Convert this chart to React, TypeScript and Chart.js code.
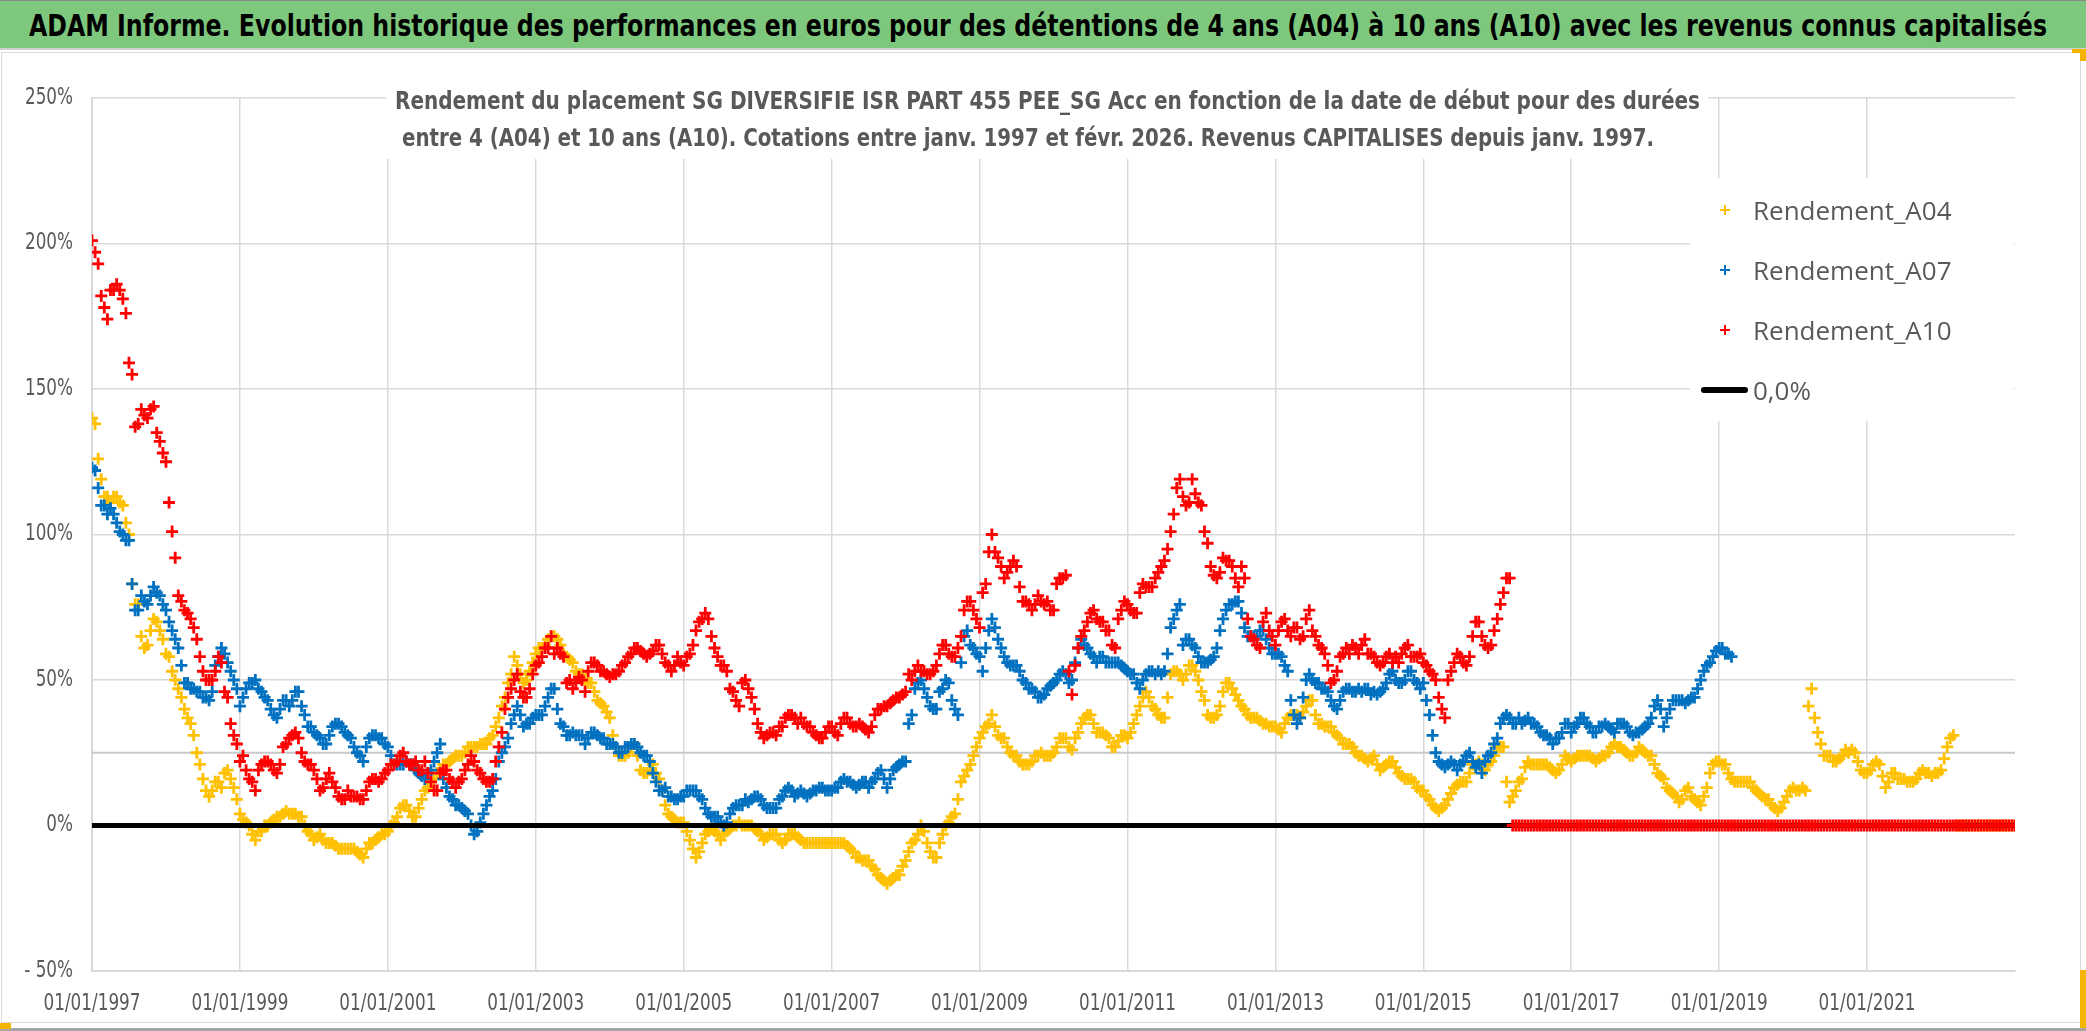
import React, { useEffect, useLayoutEffect, useRef } from 'react';
import { Chart, registerables } from 'chart.js';

Chart.register(...registerables);

// ---------- data: start dates every month from 01/1997 (plus mid-month readings), values in % ----------
const START_YEAR = 1997;
const X_MIN = 1997;
const X_MAX = 2023;
const X_TICK_YEARS = [1997, 1999, 2001, 2003, 2005, 2007, 2009, 2011, 2013, 2015, 2017, 2019, 2021];
const Y_MIN = -50;
const Y_MAX = 250;
const Y_STEP = 50;

// values read at the 1st of each month
const A04 = [
  140, 126, 113, 111, 113, 110, 100, 76, 65, 62, 71, 67,
  59, 53, 47, 40, 35, 25, 16, 10, 15, 13, 19, 13,
  4, 1, -3, -2, 0, 1, 3, 4, 4, 4, 3, -2,
  -5, -3, -6, -6, -8, -8, -8, -9, -11, -6, -5, -3,
  -2, 1, 6, 7, 3, 6, 12, 15, 18, 21, 22, 24,
  24, 27, 27, 28, 28, 31, 37, 44, 52, 55, 49, 53,
  59, 61, 64, 65, 62, 58, 56, 52, 50, 49, 43, 41,
  37, 27, 24, 25, 28, 19, 18, 21, 16, 7, 3, 1,
  1, -5, -11, -6, -2, -2, -5, -2, 0, 1, 0, 0,
  -2, -5, -3, -3, -6, -3, -3, -5, -6, -6, -6, -6,
  -6, -6, -6, -8, -11, -12, -12, -15, -18, -20, -18, -17,
  -12, -6, -3, -2, -9, -11, -3, 1, 4, 15, 19, 24,
  30, 34, 38, 31, 30, 25, 24, 21, 21, 24, 25, 24,
  25, 30, 30, 26, 32, 37, 38, 32, 32, 30, 27, 31,
  30, 35, 41, 46, 41, 38, 37, 52, 53, 50, 55, 53,
  46, 38, 37, 41, 49, 47, 43, 40, 37, 37, 35, 34,
  34, 32, 37, 38, 37, 41, 43, 35, 34, 34, 31, 28,
  28, 25, 24, 22, 24, 19, 21, 22, 18, 16, 16, 13,
  12, 9, 6, 6, 9, 13, 15, 15, 21, 22, 19, 22,
  27, 27, 8, 12, 16, 22, 21, 21, 21, 19, 19, 24,
  22, 24, 24, 24, 22, 24, 25, 28, 27, 25, 24, 27,
  25, 24, 18, 16, 12, 10, 9, 13, 9, 7, 13, 21,
  22, 21, 16, 15, 15, 15, 12, 10, 9, 6, 6, 10,
  13, 12, 12, 47, 32, 24, 24, 22, 24, 25, 25, 19,
  18, 21, 21, 13, 18, 16, 16, 15, 16, 19, 18, 18,
  19, 27, 31, 0, 0, 0, 0, 0, 0, 0, 0, 0,
  0,
];
// values read at mid-month
const A04_MID = [
  138, 119, 113, 113, 111, 104, 83, 76, 61, 67, 70, 64,
  58, 50, 44, 37, 31, 21, 12, 12, 15, 18, 16, 9,
  2, 0, -5, -2, 0, 2, 3, 5, 4, 3, 0, -3,
  -4, -5, -6, -7, -8, -8, -8, -10, -8, -6, -4, -3,
  0, 3, 7, 5, 3, 9, 13, 16, 19, 21, 23, 24,
  25, 27, 27, 28, 30, 34, 41, 49, 58, 52, 50, 56,
  61, 62, 65, 64, 59, 57, 53, 52, 49, 46, 42, 39,
  31, 24, 24, 27, 24, 18, 19, 18, 12, 4, 2, 1,
  -2, -8, -9, -3, -1, -3, -3, -1, 0, 0, 0, -1,
  -3, -4, -3, -5, -5, -3, -4, -6, -6, -6, -6, -6,
  -6, -6, -7, -9, -11, -12, -14, -17, -19, -19, -17, -14,
  -9, -5, 0, -6, -11, -6, 0, 3, 9, 17, 21, 27,
  32, 35, 34, 30, 27, 24, 22, 21, 22, 24, 24, 24,
  27, 30, 27, 30, 35, 38, 35, 32, 31, 27, 29, 31,
  32, 38, 44, 44, 40, 37, 44, 53, 52, 52, 55, 50,
  43, 37, 38, 46, 49, 45, 41, 38, 37, 36, 35, 34,
  33, 35, 38, 38, 39, 43, 38, 35, 34, 32, 30, 28,
  27, 24, 23, 23, 21, 20, 22, 20, 17, 16, 15, 12,
  10, 7, 5, 7, 11, 14, 15, 18, 21, 21, 21, 24,
  27, 15, 10, 15, 20, 21, 21, 21, 20, 18, 21, 23,
  23, 24, 24, 23, 23, 24, 27, 27, 26, 24, 25, 26,
  24, 21, 17, 13, 11, 8, 12, 10, 8, 10, 18, 22,
  21, 18, 15, 15, 15, 13, 11, 9, 7, 5, 8, 12,
  12, 13, 41, 37, 28, 24, 22, 23, 26, 26, 22, 18,
  19, 22, 17, 15, 18, 16, 15, 15, 18, 18, 17, 18,
  23, 30, 0, 0, 0, 0, 0, 0, 0, 0, 0, 0,
];

const A07 = [
  123, 116, 110, 109, 104, 100, 98, 74, 79, 76, 82, 79,
  74, 67, 61, 49, 47, 46, 44, 43, 55, 61, 56, 50,
  41, 47, 49, 47, 44, 40, 37, 43, 41, 46, 41, 34,
  32, 30, 28, 34, 35, 32, 30, 25, 22, 30, 31, 30,
  27, 21, 21, 22, 21, 18, 16, 19, 25, 16, 10, 7,
  6, 4, -3, 1, 7, 12, 22, 27, 35, 41, 34, 35,
  38, 38, 44, 47, 35, 31, 32, 31, 28, 32, 31, 30,
  28, 27, 25, 27, 28, 25, 24, 18, 12, 13, 10, 9,
  10, 12, 12, 9, 4, 3, 1, 1, 6, 7, 9, 9,
  10, 7, 6, 6, 10, 13, 10, 12, 10, 12, 13, 12,
  12, 13, 16, 15, 13, 15, 13, 16, 19, 13, 19, 21,
  22, 38, 49, 47, 41, 40, 47, 49, 40, 56, 67, 61,
  58, 61, 71, 64, 58, 55, 55, 50, 47, 46, 44, 47,
  49, 52, 52, 50, 61, 62, 59, 56, 58, 56, 56, 55,
  53, 52, 47, 52, 53, 53, 53, 68, 74, 62, 64, 61,
  56, 56, 58, 67, 74, 76, 77, 68, 65, 65, 67, 61,
  59, 58, 53, 38, 37, 50, 50, 49, 47, 43, 40, 46,
  47, 46, 46, 47, 46, 46, 49, 53, 49, 50, 53, 49,
  49, 38, 25, 21, 21, 21, 21, 24, 22, 21, 22, 25,
  30, 37, 37, 35, 35, 37, 35, 32, 31, 28, 30, 35,
  32, 35, 37, 34, 32, 34, 34, 32, 35, 34, 31, 32,
  34, 37, 43, 34, 40, 43, 43, 43, 44, 50, 55, 58,
  61, 59, 58,
];
const A07_MID = [
  122, 110, 107, 107, 101, 98, 83, 74, 77, 79, 80, 76,
  70, 64, 55, 49, 47, 46, 44, 46, 58, 59, 53, 47,
  44, 49, 50, 46, 43, 38, 40, 43, 43, 46, 38, 34,
  31, 28, 31, 35, 34, 31, 27, 24, 27, 31, 30, 28,
  24, 21, 21, 21, 19, 17, 18, 22, 28, 13, 9, 7,
  5, 0, -2, 4, 10, 16, 25, 30, 38, 38, 35, 37,
  38, 41, 47, 40, 34, 31, 31, 31, 30, 32, 30, 28,
  28, 25, 27, 28, 27, 24, 22, 15, 12, 10, 9, 10,
  12, 12, 10, 6, 3, 3, 0, 4, 7, 7, 8, 10,
  9, 6, 6, 9, 12, 12, 11, 11, 11, 12, 13, 12,
  13, 15, 15, 14, 14, 15, 15, 18, 16, 16, 20, 22,
  35, 47, 50, 44, 40, 46, 50, 43, 38, 65, 62, 59,
  53, 67, 68, 61, 56, 55, 53, 49, 47, 44, 45, 48,
  50, 53, 49, 56, 64, 61, 58, 58, 56, 56, 56, 54,
  52, 49, 50, 53, 52, 52, 59, 71, 76, 64, 62, 58,
  56, 57, 61, 71, 76, 77, 73, 65, 65, 67, 64, 59,
  59, 55, 43, 35, 44, 52, 49, 47, 46, 41, 43, 47,
  46, 47, 47, 45, 45, 47, 52, 50, 49, 53, 50, 47,
  43, 31, 22, 20, 22, 19, 22, 25, 20, 18, 24, 28,
  35, 38, 35, 37, 36, 35, 34, 31, 30, 30, 32, 35,
  34, 37, 35, 32, 34, 35, 33, 35, 35, 32, 32, 33,
  35, 41, 40, 37, 43, 43, 42, 44, 47, 53, 56, 60,
  61, 59,
];

const A10 = [
  201, 193, 178, 184, 186, 181, 159, 137, 143, 140, 144, 132,
  125, 101, 79, 74, 71, 64, 53, 50, 53, 56, 44, 31,
  22, 19, 15, 19, 22, 21, 18, 27, 30, 32, 25, 21,
  19, 12, 16, 15, 10, 9, 10, 10, 9, 15, 16, 16,
  19, 21, 24, 22, 21, 19, 22, 15, 12, 19, 16, 13,
  16, 21, 22, 18, 15, 16, 27, 40, 47, 52, 44, 47,
  55, 58, 61, 59, 59, 49, 47, 51, 46, 56, 55, 53,
  51, 52, 55, 58, 61, 60, 58, 60, 62, 56, 53, 58,
  55, 59, 67, 71, 71, 61, 55, 53, 46, 41, 50, 44,
  35, 30, 32, 31, 34, 38, 37, 37, 34, 32, 30, 32,
  34, 31, 37, 35, 34, 34, 32, 38, 40, 41, 43, 44,
  46, 50, 55, 53, 52, 55, 62, 59, 58, 65, 77, 74,
  68, 83, 100, 92, 85, 89, 89, 77, 76, 76, 77, 77,
  74, 85, 86, 45, 61, 67, 73, 71, 70, 67, 61, 74,
  76, 73, 80, 82, 82, 87, 91, 101, 116, 113, 111, 114,
  110, 97, 86, 87, 91, 89, 82, 85, 65, 62, 70, 67,
  62, 70, 67, 68, 64, 71, 67, 62, 59, 49, 53, 59,
  59, 61, 62, 59, 58, 55, 58, 56, 56, 61, 58, 58,
  56, 53, 50, 40, 50, 56, 58, 55, 65, 70, 62, 62,
  71, 80, 85, 0, 0, 0, 0, 0, 0, 0, 0, 0,
  0, 0, 0, 0, 0, 0, 0, 0, 0, 0, 0, 0,
  0, 0, 0, 0, 0, 0, 0, 0, 0, 0, 0, 0,
  0, 0, 0, 0, 0, 0, 0, 0, 0, 0, 0, 0,
  0, 0, 0, 0, 0, 0, 0, 0, 0, 0, 0, 0,
  0, 0, 0, 0, 0, 0, 0, 0, 0, 0, 0, 0,
  0, 0, 0, 0, 0, 0, 0, 0, 0, 0, 0, 0,
  0,
];
const A10_MID = [
  197, 182, 174, 184, 184, 176, 155, 138, 141, 143, 135, 128,
  111, 92, 77, 73, 68, 58, 50, 50, 58, 46, 35, 28,
  24, 16, 12, 21, 22, 19, 21, 28, 31, 30, 22, 21,
  16, 13, 18, 13, 9, 12, 10, 9, 12, 16, 15, 18,
  21, 22, 25, 21, 22, 19, 18, 12, 18, 19, 15, 15,
  19, 24, 19, 16, 15, 22, 32, 44, 50, 46, 44, 52,
  56, 61, 65, 61, 58, 50, 49, 50, 53, 56, 53, 52,
  52, 53, 56, 59, 61, 59, 59, 62, 59, 55, 55, 56,
  58, 62, 70, 73, 65, 58, 55, 47, 43, 49, 47, 40,
  32, 31, 32, 34, 37, 38, 35, 35, 34, 31, 30, 34,
  32, 35, 37, 34, 35, 33, 34, 40, 41, 42, 44, 45,
  52, 53, 53, 52, 53, 59, 62, 58, 61, 74, 77, 71,
  80, 94, 94, 89, 87, 91, 82, 77, 74, 79, 76, 74,
  83, 85, 53, 55, 65, 70, 74, 70, 67, 62, 71, 77,
  74, 73, 83, 82, 85, 89, 95, 107, 119, 110, 119, 111,
  101, 89, 85, 92, 91, 85, 89, 71, 64, 61, 73, 65,
  67, 71, 65, 68, 65, 74, 65, 61, 55, 50, 58, 61,
  62, 59, 64, 59, 56, 56, 59, 58, 59, 62, 58, 59,
  55, 52, 44, 37, 53, 59, 56, 58, 70, 65, 61, 67,
  76, 85, 0, 0, 0, 0, 0, 0, 0, 0, 0, 0,
  0, 0, 0, 0, 0, 0, 0, 0, 0, 0, 0, 0,
  0, 0, 0, 0, 0, 0, 0, 0, 0, 0, 0, 0,
  0, 0, 0, 0, 0, 0, 0, 0, 0, 0, 0, 0,
  0, 0, 0, 0, 0, 0, 0, 0, 0, 0, 0, 0,
  0, 0, 0, 0, 0, 0, 0, 0, 0, 0, 0, 0,
  0, 0, 0, 0, 0, 0, 0, 0, 0, 0, 0, 0,
];

const ZERO_LINE = [0, 0];
const REF_LINE = [25, 25];

const SERIES_LABELS = ['Rendement_A04', 'Rendement_A07', 'Rendement_A10', '0,0%'];
const SERIES_COLORS = ['#FFC000', '#0070C0', '#FF0000', '#000000'];

const TITLE =
  'ADAM Informe. Evolution historique des performances en euros pour des détentions de 4 ans (A04) à 10 ans (A10) avec les revenus connus capitalisés';
const SUBTITLE = [
  'Rendement du placement SG DIVERSIFIE ISR PART 455 PEE_SG Acc en fonction de la date de début pour des durées',
  'entre 4 (A04) et 10 ans (A10). Cotations entre janv. 1997 et févr. 2026. Revenus CAPITALISES depuis janv. 1997.',
];

const NARROW = "'DejaVu Sans Condensed', 'DejaVu Sans', sans-serif";
const WIDE = "'Open Sans', 'Noto Sans', sans-serif";

const TICK_FONT = `23px ${NARROW}`;
const TICK_COLOR = '#595959';
const X_LABEL_TARGET_W = 97; // width of "01/01/1997"
const Y_LABEL_TARGET_W = 48; // width of "250%"
const Y_LABEL_RIGHT = 73;
const X_LABEL_Y = 1004;

const toPoints = (arr: number[], offset: number) =>
  arr.map((v, i) => ({ x: START_YEAR + (i + offset) / 12, y: v }));
const edgePoints = (arr: number[]) => [
  { x: X_MIN, y: arr[0] },
  { x: X_MAX, y: arr[1] },
];
const yLabel = (v: number) => (v < 0 ? `- ${Math.abs(v)}%` : `${v}%`);
const xLabel = (v: number) => `01/01/${v}`;

const crossSet = (label: string, first: number[], mid: number[], color: string, order: number) => ({
  label,
  data: [...toPoints(first, 0), ...toPoints(mid, 0.5)],
  order,
  showLine: false,
  pointStyle: 'cross',
  pointRadius: 6,
  pointHoverRadius: 6,
  pointBorderWidth: 2.8,
  pointBorderColor: color,
  pointBackgroundColor: color,
  borderColor: color,
  backgroundColor: color,
});

// draws the tick labels in a narrowed face (like the original's condensed font)
const narrowLabels = {
  id: 'narrowLabels',
  afterDraw(chart: any) {
    const ctx = chart.ctx as CanvasRenderingContext2D;
    const xs = chart.scales.x;
    const ys = chart.scales.y;
    ctx.save();
    ctx.font = TICK_FONT;
    ctx.fillStyle = TICK_COLOR;
    ctx.textBaseline = 'middle';
    const sx = X_LABEL_TARGET_W / ctx.measureText(xLabel(X_TICK_YEARS[0])).width;
    const sy = Y_LABEL_TARGET_W / ctx.measureText(yLabel(Y_MAX)).width;
    ys.ticks.forEach((t: any) => {
      const y = ys.getPixelForValue(t.value);
      ctx.save();
      ctx.translate(Y_LABEL_RIGHT, y);
      ctx.scale(sy, 1);
      ctx.textAlign = 'right';
      ctx.fillText(yLabel(t.value), 0, 0);
      ctx.restore();
    });
    xs.ticks.forEach((t: any) => {
      if (!X_TICK_YEARS.includes(t.value)) return;
      const x = xs.getPixelForValue(t.value);
      ctx.save();
      ctx.translate(x, X_LABEL_Y);
      ctx.scale(sx, 1);
      ctx.textAlign = 'center';
      ctx.fillText(xLabel(t.value), 0, 0);
      ctx.restore();
    });
    ctx.restore();
  },
};

function FitText({ text, width, style }: { text: string; width: number; style: any }) {
  const r = useRef<HTMLSpanElement | null>(null);
  useLayoutEffect(() => {
    const el = r.current;
    if (!el) return;
    el.style.transform = 'none';
    const w = el.getBoundingClientRect().width;
    if (w > 0) el.style.transform = `scaleX(${width / w})`;
  }, [text, width]);
  return (
    <span
      ref={r}
      style={{ display: 'inline-block', whiteSpace: 'nowrap', transformOrigin: 'left center', ...style }}
    >
      {text}
    </span>
  );
}

function PlusMark({ color }: { color: string }) {
  return (
    <svg width="10" height="10" style={{ display: 'block' }}>
      <path d="M5 0V10M0 5H10" stroke={color} strokeWidth="2" />
    </svg>
  );
}

export default function App() {
  const ref = useRef<HTMLCanvasElement | null>(null);

  useEffect(() => {
    if (!ref.current) return;
    const chart = new Chart(ref.current, {
      type: 'scatter',
      data: {
        datasets: [
          crossSet(SERIES_LABELS[2], A10, A10_MID, SERIES_COLORS[2], 1) as any,
          {
            type: 'line',
            label: SERIES_LABELS[3],
            data: edgePoints(ZERO_LINE),
            order: 2,
            borderColor: SERIES_COLORS[3],
            borderWidth: 5,
            pointRadius: 0,
            fill: false,
          } as any,
          crossSet(SERIES_LABELS[1], A07, A07_MID, SERIES_COLORS[1], 3) as any,
          crossSet(SERIES_LABELS[0], A04, A04_MID, SERIES_COLORS[0], 4) as any,
          {
            type: 'line',
            label: 'ref25',
            data: edgePoints(REF_LINE),
            order: 5,
            borderColor: '#C8C8C8',
            borderWidth: 2,
            pointRadius: 0,
            fill: false,
          } as any,
        ],
      },
      options: {
        animation: false,
        responsive: false,
        events: [],
        layout: { padding: { left: 0, top: 98, right: 71, bottom: 0 } },
        plugins: {
          legend: { display: false },
          tooltip: { enabled: false },
          title: { display: false },
        },
        scales: {
          x: {
            type: 'linear',
            min: X_MIN,
            max: X_MAX,
            afterFit: (s: any) => {
              s.height = 60;
            },
            ticks: {
              stepSize: 2,
              autoSkip: false,
              maxRotation: 0,
              minRotation: 0,
              padding: 18,
              color: 'rgba(0,0,0,0)',
              font: { family: NARROW, size: 23 },
              callback: (v: any) => (X_TICK_YEARS.includes(Number(v)) ? xLabel(Number(v)) : ''),
            },
            grid: {
              color: (c: any) => (c.tick && c.tick.value >= X_MAX ? 'rgba(0,0,0,0)' : '#D9D9D9'),
              lineWidth: 1.5,
              drawTicks: false,
            },
            border: { display: true, color: '#D9D9D9', width: 2 },
          },
          y: {
            type: 'linear',
            min: Y_MIN,
            max: Y_MAX,
            afterFit: (s: any) => {
              s.width = 92;
            },
            ticks: {
              stepSize: Y_STEP,
              padding: 19,
              color: 'rgba(0,0,0,0)',
              font: { family: NARROW, size: 23 },
              callback: (v: any) => yLabel(Number(v)),
            },
            grid: { color: '#D9D9D9', lineWidth: 1.5, drawTicks: false },
            border: { display: true, color: '#D9D9D9', width: 2 },
          },
        },
      } as any,
      plugins: [narrowLabels],
    });
    return () => chart.destroy();
  }, []);

  const legendRows = [0, 1, 2, 3];
  const LEG_TEXT_X = 1753;
  const LEG_ROW_Y = [210, 270, 330, 390];

  return (
    <div
      style={{
        position: 'fixed',
        left: 0,
        top: 0,
        width: 2086,
        height: 1031,
        background: '#ffffff',
        overflow: 'hidden',
      }}
    >
      <canvas
        ref={ref}
        width={2086}
        height={1031}
        style={{ position: 'absolute', left: 0, top: 0, width: 2086, height: 1031 }}
      />

      {/* chart frame */}
      <div
        style={{
          position: 'absolute',
          left: 1,
          top: 52,
          width: 2078,
          height: 969,
          border: '1px solid #D9D9D9',
          pointerEvents: 'none',
        }}
      />
      <div style={{ position: 'absolute', left: 0, top: 1028, width: 2086, height: 3, background: '#A6A6A6' }} />

      {/* title banner */}
      <div
        style={{
          position: 'absolute',
          left: 0,
          top: 0,
          width: 2086,
          height: 50,
          background: '#7EC87E',
          borderTop: '1px solid #8A8A8A',
          borderBottom: '2px solid #D0D0D0',
          boxSizing: 'border-box',
        }}
      >
        <div style={{ position: 'absolute', left: 29, top: 5, lineHeight: '38px' }}>
          <FitText
            text={TITLE}
            width={2018}
            style={{ fontFamily: NARROW, fontWeight: 'bold', fontSize: 31, color: '#000000' }}
          />
        </div>
      </div>

      {/* subtitle inside plot area */}
      <div
        style={{
          position: 'absolute',
          left: 386,
          top: 83,
          width: 1322,
          height: 76,
          background: '#ffffff',
        }}
      >
        <div style={{ position: 'absolute', left: 395 - 386, top: 0, lineHeight: '37px' }}>
          <FitText
            text={SUBTITLE[0]}
            width={1305}
            style={{ fontFamily: NARROW, fontWeight: 'bold', fontSize: 24, color: '#595959' }}
          />
        </div>
        <div style={{ position: 'absolute', left: 402 - 386, top: 37, lineHeight: '37px' }}>
          <FitText
            text={SUBTITLE[1]}
            width={1252}
            style={{ fontFamily: NARROW, fontWeight: 'bold', fontSize: 24, color: '#595959' }}
          />
        </div>
      </div>

      {/* legend */}
      <div
        style={{
          position: 'absolute',
          left: 1690,
          top: 178,
          width: 324,
          height: 243,
          background: '#ffffff',
        }}
      />
      {legendRows.map((i) => (
        <React.Fragment key={i}>
          {i < 3 ? (
            <div style={{ position: 'absolute', left: LEG_TEXT_X - 33, top: LEG_ROW_Y[i] - 5 }}>
              <PlusMark color={SERIES_COLORS[i]} />
            </div>
          ) : (
            <div
              style={{
                position: 'absolute',
                left: LEG_TEXT_X - 52,
                top: LEG_ROW_Y[i] - 3,
                width: 47,
                height: 6,
                borderRadius: 3,
                background: SERIES_COLORS[3],
              }}
            />
          )}
          <div
            style={{
              position: 'absolute',
              left: LEG_TEXT_X,
              top: LEG_ROW_Y[i] - 20,
              lineHeight: '40px',
              fontFamily: WIDE,
              fontSize: 26,
              fontWeight: 400,
              color: '#595959',
              whiteSpace: 'nowrap',
            }}
          >
            {SERIES_LABELS[i]}
          </div>
        </React.Fragment>
      ))}

      {/* selection handles */}
      <div style={{ position: 'absolute', left: 0, top: 1023, width: 11, height: 6, background: '#F4B400' }} />
      <div style={{ position: 'absolute', left: 2080, top: 970, width: 6, height: 58, background: '#F4B400' }} />
      <div style={{ position: 'absolute', left: 2072, top: 49, width: 14, height: 4, background: '#F4B400' }} />
      <div style={{ position: 'absolute', left: 2080, top: 49, width: 6, height: 12, background: '#F4B400' }} />
    </div>
  );
}
